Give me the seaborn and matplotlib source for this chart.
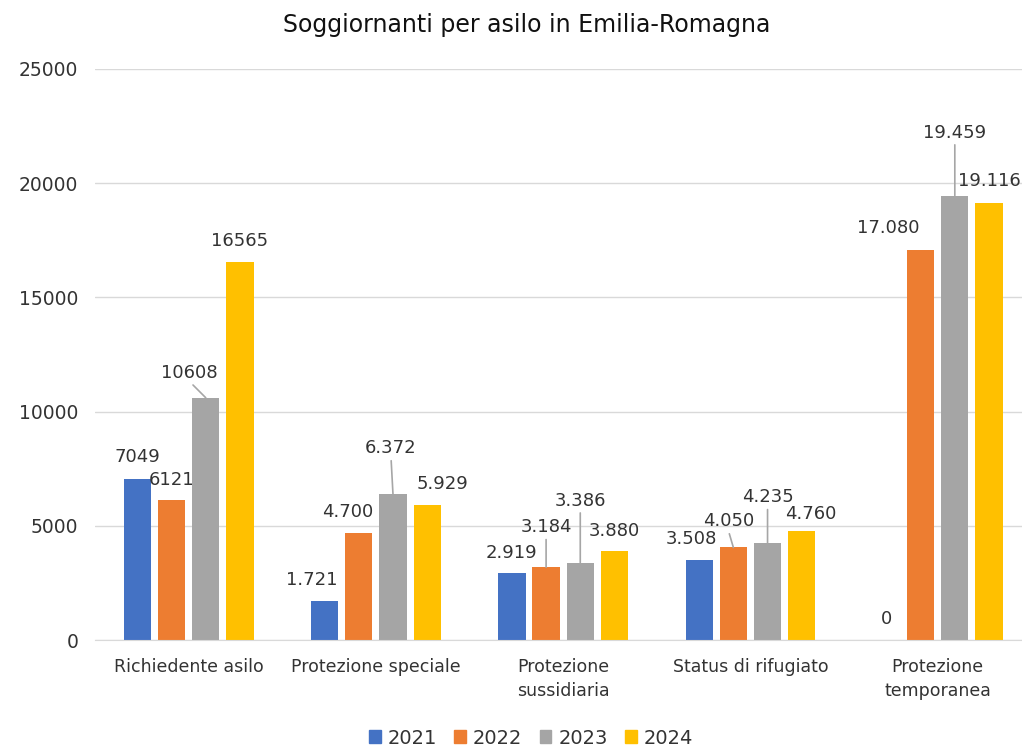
import numpy as np
import pandas as pd
import seaborn as sns
import matplotlib.pyplot as plt
from matplotlib.patches import Patch

categorie = ["Richiedente asilo", "Protezione speciale", "Protezione\nsussidiaria",
             "Status di rifugiato", "Protezione\ntemporanea"]
anni = ["2021", "2022", "2023", "2024"]
v2021 = [7049, 1721, 2919, 3508, 0]
v2022 = [6121, 4700, 3184, 4050, 17080]
v2023 = [10608, 6372, 3386, 4235, 19459]
v2024 = [16565, 5929, 3880, 4760, 19116]

colori = ["#4472C4", "#ED7D31", "#A5A5A5", "#FFC000"]

# label offsets in pixels (dx, dy) and whether a leader line is drawn
offsets = {
    (0, 0): (0, 22), (0, 1): (0, 20), (0, 2): (-16, 25), (0, 3): (0, 21),
    (1, 0): (-13, 21), (1, 1): (-11, 21), (1, 2): (-2, 46), (1, 3): (15, 21),
    (2, 0): (0, 20), (2, 1): (0, 40), (2, 2): (0, 62), (2, 3): (0, 20),
    (3, 0): (-8, 21), (3, 1): (-5, 26), (3, 2): (0, 46), (3, 3): (9, 17),
    (4, 0): (0, 21), (4, 1): (-32, 22), (4, 2): (0, 63), (4, 3): (0, 22),
}
leader = {(0, 2), (1, 2), (2, 1), (2, 2), (3, 1), (3, 2), (4, 2)}

df = pd.DataFrame({
    "categoria": categorie * 4,
    "anno": [a for a in anni for _ in categorie],
    "valore": v2021 + v2022 + v2023 + v2024,
})

sns.set_style("white")
plt.rcParams['font.family'] = ['DejaVu Sans']
txt = "#333333"

fig = plt.figure(figsize=(10.22, 7.48), dpi=100)
ax = fig.add_axes([95 / 1022, 1 - 640 / 748, 927 / 1022, 571 / 748])

sns.barplot(data=df, x="categoria", y="valore", hue="anno", palette=colori,
            width=0.73, gap=0.2, saturation=1, ax=ax, legend=False, edgecolor="none")

ax.set_ylim(0, 25000)
ax.set_xlim(-0.5, 4.45)
ax.set_yticks(range(0, 25001, 5000))
ax.yaxis.grid(True, color="#D9D9D9", lw=1)
ax.set_axisbelow(True)
for s in ["top", "left", "right"]:
    ax.spines[s].set_visible(False)
ax.spines["bottom"].set_color("#D9D9D9")
ax.tick_params(axis="both", length=0, colors=txt)
ax.tick_params(axis="y", pad=12, labelsize=13.5)
ax.tick_params(axis="x", pad=13, labelsize=12.5)
for lab in ax.get_xticklabels():
    lab.set_linespacing(1.4)
ax.set_xlabel("")
ax.set_ylabel("")

for j, cont in enumerate(ax.containers):
    for i, bar in enumerate(cont.patches):
        v = int(round(bar.get_height()))
        s = str(v) if i == 0 else f"{v:,}".replace(",", ".")
        dx, dy = offsets[(i, j)]
        xy = (bar.get_x() + bar.get_width() / 2, bar.get_height())
        kw = {}
        if (i, j) in leader:
            kw["arrowprops"] = dict(arrowstyle="-", color="#A6A6A6", lw=1.2,
                                    shrinkA=0, shrinkB=0, relpos=(0.5, 0))
        ax.annotate(s, xy=xy, xytext=(dx, dy), textcoords="offset pixels",
                    ha="center", va="center", fontsize=13, color=txt, **kw)

fig.text(527 / 1022, 1 - 25 / 748, "Soggiornanti per asilo in Emilia-Romagna",
         ha="center", va="center", fontsize=17, color="#111111")

handles = [Patch(color=c, label=a) for c, a in zip(colori, anni)]
fig.legend(handles=handles, loc="center", bbox_to_anchor=(531 / 1022, 1 - 738 / 748),
           ncol=4, frameon=False, fontsize=14, handlelength=0.6, handleheight=0.6,
           handletextpad=0.35, columnspacing=0.9, labelcolor=txt)

fig.savefig("out.png", dpi=100)
